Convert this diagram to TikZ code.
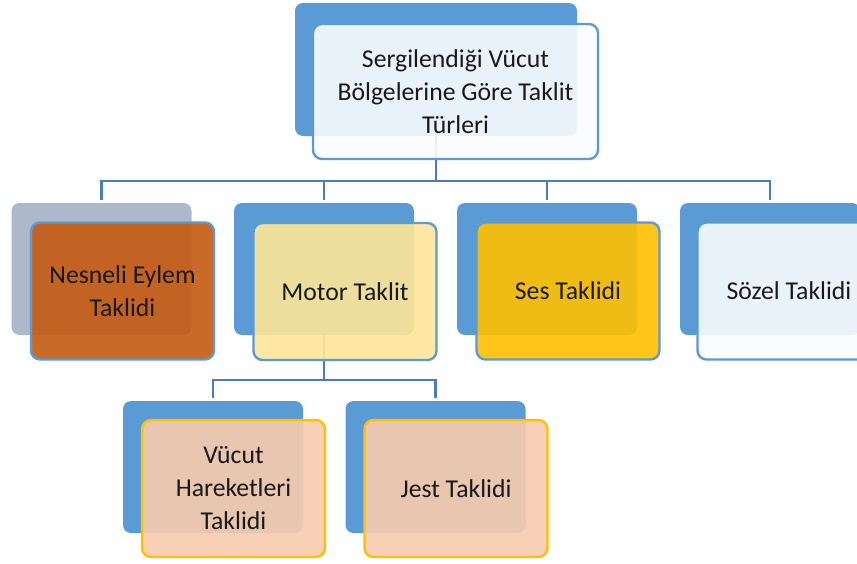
\documentclass[tikz,border=0pt]{standalone}
\usepackage{fontspec}
\setmainfont{Carlito}
\definecolor{backblue}{HTML}{5B9BD5}
\definecolor{backgrey}{HTML}{ADB9CA}
\definecolor{linkblue}{HTML}{4A7EBB}
\definecolor{frontborder}{HTML}{5B9BD5}
\definecolor{goldborder}{HTML}{FFC000}
\definecolor{paleblue}{HTML}{FAFCFE}
\definecolor{rust}{HTML}{C55A11}
\definecolor{paleyellow}{HTML}{FFE699}
\definecolor{amber}{HTML}{FFC000}
\definecolor{peach}{HTML}{F8CBAD}
\begin{document}
\begin{tikzpicture}[x=1pt,y=-1pt,
  backbox/.style={rounded corners=8pt, fill=backblue, minimum width=180pt, minimum height=132pt, inner sep=0pt},
  frontbox/.style={rounded corners=9pt, draw=frontborder, line width=2.4pt, fill opacity=0.9, text opacity=1,
    minimum width=183pt, minimum height=137pt, inner sep=0pt, align=center,
    font=\fontsize{25.7}{33}\selectfont, text=black!90},
  link/.style={draw=linkblue, line width=2.4pt}]
\fill[white] (0,0) rectangle (857,563);
\clip (0,0) rectangle (857,563);
% back boxes
\node[backbox, minimum width=282pt, minimum height=133pt] (topb) at (436,69.5) {};
\node[backbox, fill=backgrey] (nesb) at (101.5,269) {};
\node[backbox] (motb) at (324,269) {};
\node[backbox] (sesb) at (547,269) {};
\node[backbox] (sozb) at (770,269) {};
\node[backbox] (vucb) at (213,467) {};
\node[backbox] (jesb) at (435.5,467) {};
% connectors
\draw[link] (topb.south) -- ++(0,45) -| ([yshift=3pt]nesb.north);
\draw[link] (topb.south) -- ++(0,45) -| ([yshift=3pt]motb.north);
\draw[link] (topb.south) -- ++(0,45) -| ([yshift=3pt]sesb.north);
\draw[link] (topb.south) -- ++(0,45) -| ([yshift=3pt]sozb.north);
\draw[link] (motb.south) -- ++(0,45) -| ([yshift=3pt]vucb.north);
\draw[link] (motb.south) -- ++(0,45) -| ([yshift=3pt]jesb.north);
% front boxes
\node[frontbox, fill=paleblue, minimum width=285pt, minimum height=135pt] (topf) at (455.5,91.5)
  {Sergilendiği Vücut\\Bölgelerine Göre Taklit\\Türleri};
\node[frontbox, fill=rust] (nesf) at (122.5,291) {Nesneli Eylem\\Taklidi};
\node[frontbox, fill=paleyellow] (motf) at (345,291.5) {Motor Taklit};
\node[frontbox, fill=amber] (sesf) at (568,291) {Ses Taklidi};
\node[frontbox, fill=paleblue] (sozf) at (789,291) {Sözel Taklidi};
\node[frontbox, fill=peach, draw=goldborder] (vucf) at (233.5,488.5) {Vücut\\Hareketleri\\Taklidi};
\node[frontbox, fill=peach, draw=goldborder] (jesf) at (456,488.5) {Jest Taklidi};
\end{tikzpicture}
\end{document}
